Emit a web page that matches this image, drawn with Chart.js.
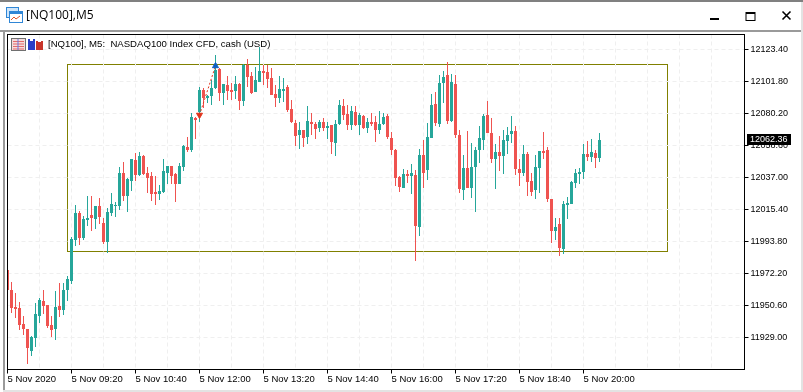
<!DOCTYPE html>
<html>
<head>
<meta charset="utf-8">
<title>[NQ100],M5</title>
<script src="https://cdn.jsdelivr.net/npm/chart.js@4"></script>
<style>
  html, body { margin: 0; padding: 0; background: #fff; }
  #win { position: relative; width: 803px; height: 392px; overflow: hidden; background: #fff; }
  #win canvas { position: absolute; left: 0; top: 0; }
  .bar { position: absolute; }
  #winTitle { position: absolute; left: 26px; top: 7px; font: 12px "Open Sans", sans-serif; color: #000; line-height: 16px; white-space: nowrap; }
  #symbol { position: absolute; left: 48px; top: 38px; font: 9.6px "Liberation Sans", sans-serif; color: #000; line-height: 12px; white-space: pre; }
  svg { position: absolute; }
</style>
</head>
<body>
<div id="win">
  <canvas id="chart" width="803" height="392"></canvas>
  <div class="bar" style="left:0;top:0;width:803px;height:2px;background:#808080"></div>
  <div class="bar" style="left:0;top:30px;width:803px;height:2px;background:#9a9a9a"></div>
  <div class="bar" style="left:3px;top:30px;width:2px;height:360px;background:#9a9a9a"></div>
  <div class="bar" style="left:801px;top:2px;width:2px;height:390px;background:#e3e3e3"></div>
  <div class="bar" style="left:3px;top:390px;width:800px;height:2px;background:#e3e3e3"></div>

  <svg style="left:6px;top:7px" width="17" height="16">
    <rect x="0.5" y="0.5" width="12" height="10" fill="#cfe6fb" stroke="#2f86d6"/>
    <rect x="3.5" y="4.5" width="13" height="11" fill="#fff" stroke="#2f86d6"/>
    <rect x="4" y="5" width="12" height="2" fill="#2f86d6"/>
    <polyline points="5,13 8,10 10,12 14,9" fill="none" stroke="#e0532a"/>
  </svg>
  <div id="winTitle">[NQ100],M5</div>
  <svg style="left:706px;top:8px" width="90" height="16">
    <rect x="4" y="10" width="9" height="2" fill="#000"/>
    <rect x="40" y="4.5" width="9" height="8" fill="none" stroke="#000"/>
    <rect x="40" y="4" width="9" height="2" fill="#000"/>
    <path d="M76.5 3.5 L84.5 11.5 M84.5 3.5 L76.5 11.5" stroke="#000" stroke-width="1.6"/>
  </svg>

  <svg style="left:11px;top:38px" width="33" height="14">
    <rect x="0.5" y="0.5" width="14" height="12" fill="#f4dcdc" stroke="#707070"/>
    <path d="M2 3.5H13M2 6H13M2 8.5H13M2 11H13" stroke="#e46a6a"/>
    <path d="M7 1V12" stroke="#6a78e0"/>
    <rect x="17" y="1" width="7" height="11" fill="#2a3fc8"/>
    <rect x="25" y="3" width="7" height="9" fill="#c8352a"/>
    <rect x="19" y="0" width="3" height="3" fill="#fff"/>
    <rect x="27" y="1" width="3" height="3" fill="#fff"/>
  </svg>
  <div id="symbol">[NQ100], M5:  NASDAQ100 Index CFD, cash (USD)</div>
</div>

<script>
  // 5 minute bars from 08:00, one per slot on the x axis
  const opens = [
    11974.6, 11961.1, 11949.6, 11948.9, 11938.1, 11934.7, 11919.9, 11928.7, 11943.5, 11953.6,
    11950.9, 11937.4, 11934.7, 11950.3, 11947.6, 11961.1, 11967.1, 11994.8, 12013.0, 11996.2,
    12008.3, 12011.7, 12009.0, 12017.8, 12006.3, 11993.5, 12013.0, 12017.8, 12017.8, 12040.0,
    12024.5, 12034.6, 12048.8, 12038.7, 12051.5, 12040.0, 12038.0, 12027.2, 12025.9, 12027.2,
    12040.0, 12044.8, 12039.4, 12032.6, 12044.1, 12057.6, 12055.6, 12077.2, 12081.2, 12096.1,
    12090.7, 12092.0, 12097.4, 12110.2, 12094.0, 12099.4, 12096.1, 12095.4, 12100.1, 12088.6,
    12112.9, 12105.5, 12094.7, 12101.5, 12108.9, 12108.2, 12104.2, 12093.4, 12090.7, 12095.4,
    12098.1, 12083.2, 12073.8, 12065.7, 12069.1, 12064.3, 12074.5, 12073.1, 12070.4, 12074.5,
    12070.4, 12072.4, 12060.3, 12073.1, 12085.3, 12079.9, 12072.4, 12081.2, 12072.4, 12078.5,
    12070.4, 12074.5, 12074.5, 12069.1, 12073.1, 12078.5, 12063.7, 12055.6, 12037.3, 12029.9,
    12039.4, 12038.0, 12038.7, 12003.6, 12052.2, 12042.1, 12063.7, 12086.6, 12073.1, 12100.8,
    12106.2, 12075.1, 12100.1, 12065.7, 12028.6, 12043.4, 12029.9, 12044.1, 12055.6, 12062.3,
    12079.2, 12067.0, 12049.5, 12054.2, 12051.5, 12061.6, 12066.4, 12068.4, 12042.7, 12040.0,
    12052.9, 12034.6, 12028.6, 12043.4, 12054.9, 12055.6, 12022.5, 12000.9, 12005.6, 11988.7,
    12018.4, 12019.1, 12033.3, 12039.4, 12040.7, 12052.9, 12050.8, 12053.5, 12050.2
  ];
  const highs = [
    11975.9, 11966.5, 11959.0, 11953.0, 11943.5, 11934.7, 11930.0, 11952.3, 11955.7, 11961.1,
    11950.9, 11943.5, 11960.4, 11965.8, 11965.8, 11970.5, 11996.8, 12018.4, 12014.4, 12011.0,
    12024.5, 12024.5, 12017.8, 12023.2, 12009.7, 12016.4, 12026.5, 12020.5, 12044.1, 12047.5,
    12036.7, 12049.5, 12053.5, 12054.2, 12052.2, 12044.1, 12040.7, 12038.0, 12031.9, 12049.5,
    12044.8, 12044.8, 12040.0, 12046.8, 12058.9, 12064.3, 12080.5, 12077.8, 12098.1, 12097.4,
    12092.7, 12102.8, 12119.7, 12110.9, 12100.1, 12105.5, 12100.8, 12105.5, 12100.8, 12113.6,
    12117.0, 12108.2, 12111.6, 12125.1, 12112.9, 12112.9, 12110.9, 12099.4, 12105.5, 12104.2,
    12099.4, 12089.3, 12075.8, 12074.5, 12069.1, 12085.3, 12080.5, 12074.5, 12075.8, 12077.2,
    12074.5, 12072.4, 12075.8, 12089.3, 12090.0, 12085.9, 12085.3, 12085.3, 12080.5, 12079.2,
    12077.2, 12080.5, 12078.5, 12081.9, 12080.5, 12079.9, 12067.7, 12056.2, 12038.0, 12042.7,
    12042.1, 12046.1, 12042.1, 12056.2, 12062.3, 12073.8, 12093.4, 12094.7, 12106.2, 12108.9,
    12115.0, 12106.9, 12106.2, 12069.1, 12052.2, 12068.4, 12060.3, 12057.6, 12071.8, 12079.9,
    12088.6, 12077.2, 12059.6, 12065.0, 12069.1, 12071.1, 12078.5, 12071.8, 12049.5, 12058.9,
    12054.2, 12040.0, 12052.2, 12054.9, 12067.7, 12057.6, 12022.5, 12009.7, 12009.7, 12021.1,
    12023.8, 12034.6, 12042.7, 12043.4, 12059.6, 12061.6, 12063.0, 12055.6, 12067.0
  ];
  const lows = [
    11959.7, 11945.5, 11942.2, 11934.1, 11930.7, 11911.1, 11916.5, 11922.6, 11938.8, 11944.9,
    11935.4, 11929.3, 11927.3, 11942.8, 11944.2, 11953.6, 11965.1, 11990.8, 11991.4, 11994.8,
    12004.3, 12000.9, 12002.2, 12005.6, 11992.1, 11986.0, 12011.0, 12010.3, 12015.1, 12021.1,
    12013.7, 12027.9, 12034.6, 12038.0, 12038.7, 12026.5, 12021.1, 12018.4, 12021.8, 12026.5,
    12032.6, 12032.6, 12020.5, 12032.6, 12041.4, 12054.2, 12054.2, 12063.0, 12074.5, 12083.9,
    12087.3, 12085.9, 12096.7, 12088.6, 12085.9, 12089.3, 12089.3, 12090.0, 12082.6, 12085.3,
    12098.1, 12093.4, 12094.7, 12101.5, 12099.4, 12097.4, 12092.7, 12084.6, 12087.3, 12088.0,
    12081.2, 12073.8, 12058.3, 12056.2, 12057.6, 12059.6, 12065.7, 12063.0, 12067.7, 12068.4,
    12063.0, 12052.9, 12051.5, 12072.4, 12075.8, 12069.1, 12069.1, 12071.8, 12065.7, 12069.7,
    12067.0, 12071.8, 12061.0, 12066.4, 12072.4, 12063.0, 12052.2, 12031.3, 12027.2, 12029.9,
    12033.3, 12025.9, 11980.6, 11997.5, 12029.9, 12035.3, 12063.7, 12071.8, 12071.1, 12087.3,
    12073.1, 12074.5, 12063.7, 12026.5, 12021.8, 12029.9, 12023.2, 12013.7, 12046.8, 12055.6,
    12067.0, 12046.8, 12029.2, 12041.4, 12039.4, 12052.9, 12060.3, 12038.7, 12031.3, 12038.0,
    12024.5, 12024.5, 12022.5, 12026.5, 12049.5, 12020.5, 11992.8, 11994.8, 11984.0, 11985.4,
    12009.0, 12019.1, 12029.9, 12032.6, 12036.0, 12048.1, 12047.5, 12043.4, 12047.5
  ];
  const closes = [
    11961.1, 11948.9, 11948.2, 11937.4, 11934.7, 11921.9, 11929.3, 11944.9, 11954.3, 11950.3,
    11936.8, 11934.1, 11949.6, 11947.6, 11961.1, 11968.5, 11995.5, 12013.0, 11996.2, 12009.0,
    12009.7, 12009.7, 12017.8, 12010.3, 11993.5, 12013.7, 12019.1, 12018.4, 12040.0, 12024.5,
    12036.0, 12049.5, 12038.7, 12051.5, 12039.4, 12036.7, 12025.9, 12025.9, 12027.9, 12041.4,
    12044.8, 12038.0, 12032.6, 12044.8, 12058.3, 12055.6, 12077.8, 12075.8, 12096.1, 12090.7,
    12092.0, 12097.4, 12109.6, 12094.0, 12100.1, 12095.4, 12094.7, 12100.1, 12088.6, 12112.9,
    12104.8, 12094.0, 12102.8, 12108.9, 12107.5, 12103.5, 12092.7, 12090.7, 12096.7, 12096.7,
    12082.6, 12074.5, 12065.0, 12069.1, 12063.7, 12075.1, 12073.1, 12069.7, 12074.5, 12070.4,
    12071.8, 12061.0, 12073.1, 12085.9, 12079.2, 12072.4, 12081.9, 12072.4, 12079.2, 12070.4,
    12074.5, 12073.1, 12069.1, 12073.1, 12077.8, 12064.3, 12055.6, 12036.7, 12030.6, 12039.4,
    12038.0, 12040.0, 12004.3, 12052.2, 12040.0, 12064.3, 12085.9, 12073.8, 12100.8, 12104.8,
    12075.1, 12101.5, 12065.7, 12029.2, 12043.4, 12029.9, 12044.1, 12055.6, 12063.7, 12078.5,
    12067.0, 12049.5, 12054.2, 12051.5, 12062.3, 12065.7, 12068.4, 12042.7, 12040.0, 12052.9,
    12034.0, 12027.2, 12044.1, 12054.9, 12053.5, 12022.5, 12000.9, 12003.6, 11989.4, 12019.1,
    12019.8, 12034.0, 12040.0, 12040.7, 12052.9, 12050.8, 12054.2, 12050.2, 12062.36
  ];

  const xTickLabels = ["5 Nov 2020", "5 Nov 09:20", "5 Nov 10:40", "5 Nov 12:00", "5 Nov 13:20",
    "5 Nov 14:40", "5 Nov 16:00", "5 Nov 17:20", "5 Nov 18:40", "5 Nov 20:00"];
  const yTicks = [12123.4, 12101.8, 12080.2, 12058.6, 12037.0, 12015.4, 11993.8, 11972.2, 11950.6, 11929.0];

  // rectangle object and the two trade arrows on the chart
  const rangeBars = [15, 165];
  const rangePrices = [12113.27, 11987.05];
  const tradeBars = [48, 52];
  const tradePrices = [12079.2, 12112.3];
  const lastPrice = 12062.36;

  const UP = "#26a69a";
  const DOWN = "#ef5350";
  const GRID = "#efefef";

  const barColors = opens.map((o, i) => (closes[i] >= o ? UP : DOWN));

  // drawn first so the grid runs over it, as in the terminal
  const rangeBox = {
    id: "rangeBox",
    beforeDraw(chart) {
      const { x, y } = chart.scales;
      const ctx = chart.ctx;
      const left = x.getPixelForValue(rangeBars[0]);
      const right = x.getPixelForValue(rangeBars[1]);
      const top = y.getPixelForValue(rangePrices[0]);
      const bottom = y.getPixelForValue(rangePrices[1]);
      ctx.save();
      ctx.strokeStyle = "#808000";
      ctx.lineWidth = 1;
      ctx.strokeRect(left, top, right - left, bottom - top);
      ctx.restore();
    },
  };

  const frame = {
    id: "frame",
    afterDraw(chart) {
      const { left, top, right, bottom } = chart.chartArea;
      const ctx = chart.ctx;
      ctx.save();
      ctx.strokeStyle = "#000";
      ctx.lineWidth = 1;
      ctx.strokeRect(left, top, right - left, bottom - top);

      // current price tag on the axis
      const py = Math.round(chart.scales.y.getPixelForValue(lastPrice));
      ctx.fillStyle = "#000";
      ctx.fillRect(747, py - 6, 44, 11);
      ctx.fillStyle = "#fff";
      ctx.font = "9px 'Liberation Sans'";
      ctx.textBaseline = "middle";
      ctx.fillText(lastPrice.toFixed(2), 750, py);
      ctx.restore();
    },
  };

  new Chart(document.getElementById("chart"), {
    type: "bar",
    data: {
      datasets: [
        {
          type: "line",
          data: tradeBars.map((b, i) => ({ x: b, y: tradePrices[i] })),
          borderColor: "#e0341c",
          borderWidth: 1,
          borderDash: [2, 2],
          pointStyle: "triangle",
          pointRadius: 3.5,
          pointRotation: [180, 0],
          pointBackgroundColor: ["#e0341c", "#0f5fc4"],
          pointBorderColor: ["#e0341c", "#0f5fc4"],
          order: 1,
        },
        {
          data: opens.map((o, i) => ({ x: i, y: [o, closes[i]] })),
          backgroundColor: barColors,
          barThickness: 3,
          grouped: false,
          inflateAmount: 0,
          order: 2,
        },
        {
          data: lows.map((l, i) => ({ x: i, y: [l, highs[i]] })),
          backgroundColor: barColors,
          barThickness: 1,
          grouped: false,
          inflateAmount: 0,
          order: 3,
        },
      ],
    },
    options: {
      responsive: false,
      animation: false,
      events: [],
      layout: { autoPadding: false, padding: { left: 7.5, top: 34.5, right: 0, bottom: 0 } },
      plugins: { legend: { display: false }, title: { display: false }, tooltip: { enabled: false } },
      scales: {
        x: {
          type: "linear",
          offset: false,
          min: 0,
          max: 184.25,
          afterFit(axis) {
            axis.height = 22.5;
          },
          afterBuildTicks(axis) {
            const ticks = [];
            for (let k = 0; k <= 176; k += 8) ticks.push({ value: k });
            axis.ticks = ticks;
          },
          border: { display: false, dash: [4, 3] },
          grid: {
            offset: false,
            color: GRID,
            tickLength: 4,
            tickBorderDash: [],
            tickColor: (c) => (c.tick && c.tick.value % 16 === 0 && c.tick.value <= 144 ? "#000" : "rgba(0,0,0,0)"),
          },
          ticks: {
            autoSkip: false,
            maxRotation: 0,
            align: "start",
            padding: 0,
            color: "#000",
            font: { family: "Liberation Sans", size: 9.5 },
            callback: (v) => xTickLabels[v / 16] || "",
          },
        },
        y: {
          position: "right",
          min: 11907.4,
          max: 12133.52,
          afterFit(axis) {
            axis.width = 58.5;
          },
          afterBuildTicks(axis) {
            axis.ticks = yTicks.map((v) => ({ value: v }));
          },
          border: { display: false, dash: [4, 3] },
          grid: { color: GRID, tickLength: 4, tickBorderDash: [], tickColor: "#000" },
          ticks: {
            padding: 2,
            color: "#000",
            font: { family: "Liberation Sans", size: 9 },
            callback: (v) => v.toFixed(2),
          },
        },
      },
    },
    plugins: [rangeBox, frame],
  });
</script>
</body>
</html>
